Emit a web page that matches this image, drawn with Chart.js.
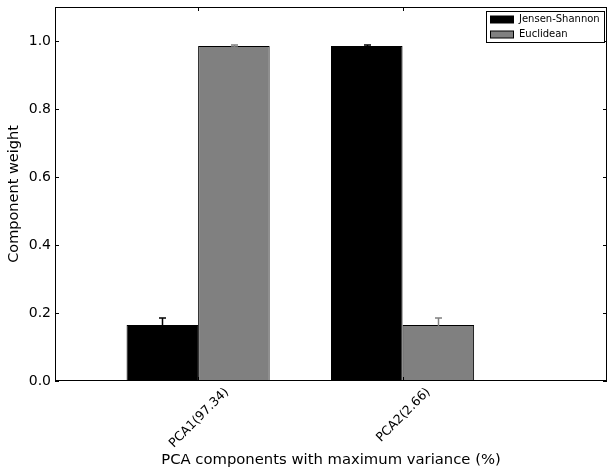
<!DOCTYPE html>
<html>
<head>
<meta charset="utf-8">
<script src="https://cdn.jsdelivr.net/npm/chart.js@4.4.0/dist/chart.umd.min.js"></script>
<style>
html,body{margin:0;padding:0;background:#fff;}
#wrap{width:608px;height:473px;}
</style>
</head>
<body>
<div id="wrap"><canvas id="c" width="608" height="473"></canvas></div>
<script>
const categories = ['PCA1(97.34)', 'PCA2(2.66)'];
const groupCenters = [0.35, 1.35];
const seriesNames = ['Jensen-Shannon', 'Euclidean'];
const jensenShannon = [0.165, 0.985];
const jensenShannonErr = [0.020, 0.003];
const euclidean = [0.985, 0.165];
const euclideanErr = [0.003, 0.020];
const yTicks = [0.0, 0.2, 0.4, 0.6, 0.8, 1.0];
const colors = ['#000000', '#808080'];

const FONT = "'DejaVu Sans', sans-serif";

function mk(vals) { return vals.map((v, i) => ({ x: groupCenters[i], y: v })); }

const errs = [jensenShannonErr, euclideanErr];

const customPlugin = {
  id: 'custom',
  afterDatasetsDraw(chart) {
    const ctx = chart.ctx;
    const ca = chart.chartArea;
    const xs = chart.scales.x, ys = chart.scales.y;
    // error bars (upper visible)
    chart.data.datasets.forEach((ds, di) => {
      const meta = chart.getDatasetMeta(di);
      meta.data.forEach((bar, i) => {
        const v = ds.data[i].y, e = errs[di][i];
        const x = Math.round(bar.x) + 0.5;
        const y1 = ys.getPixelForValue(v - e), y2 = ys.getPixelForValue(v + e);
        ctx.save();
        ctx.strokeStyle = colors[di];
        ctx.lineWidth = 1.5;
        ctx.beginPath();
        ctx.moveTo(x, y1); ctx.lineTo(x, y2);
        ctx.moveTo(x - 3.5, y2); ctx.lineTo(x + 3.5, y2);
        ctx.moveTo(x - 3.5, y1); ctx.lineTo(x + 3.5, y1);
        ctx.stroke();
        ctx.restore();
      });
    });
    // frame
    ctx.save();
    ctx.strokeStyle = '#000';
    ctx.lineWidth = 1;
    ctx.strokeRect(Math.round(ca.left) + 0.5, Math.round(ca.top) + 0.5, Math.round(ca.right - ca.left) - 1, Math.round(ca.bottom - ca.top) - 1);
    // inward ticks
    ctx.beginPath();
    yTicks.forEach(t => {
      const y = Math.round(ys.getPixelForValue(t)) + 0.5;
      ctx.moveTo(ca.left, y); ctx.lineTo(ca.left + 4, y);
      ctx.moveTo(ca.right, y); ctx.lineTo(ca.right - 4, y);
    });
    groupCenters.forEach(g => {
      const x = Math.round(xs.getPixelForValue(g)) + 0.5;
      ctx.moveTo(x, ca.bottom); ctx.lineTo(x, ca.bottom - 4);
      ctx.moveTo(x, ca.top); ctx.lineTo(x, ca.top + 4);
    });
    ctx.stroke();
    // x tick labels rotated 45, centered on tick
    ctx.fillStyle = '#000';
    ctx.font = '12.5px ' + FONT;
    ctx.textAlign = 'center';
    ctx.textBaseline = 'middle';
    categories.forEach((c, i) => {
      const x = xs.getPixelForValue(groupCenters[i]) + 1;
      const w = ctx.measureText(c).width;
      const h = 12;
      const bh = (w + h) * Math.SQRT1_2;
      const cy = ca.bottom + 5 + bh / 2;
      ctx.save();
      ctx.translate(x, cy);
      ctx.rotate(-Math.PI / 4);
      ctx.fillText(c, 0, 0);
      ctx.restore();
    });
    // legend
    const lx = 486, ly = 11, lw = 118, lh = 31;
    ctx.fillStyle = '#fff';
    ctx.fillRect(lx, ly, lw, lh);
    ctx.strokeStyle = '#000';
    ctx.lineWidth = 1;
    ctx.strokeRect(lx + 0.5, ly + 0.5, lw, lh);
    ctx.font = '10px ' + FONT;
    ctx.textAlign = 'left';
    ctx.textBaseline = 'middle';
    seriesNames.forEach((n, i) => {
      const cy = ly + 8.5 + i * 15;
      ctx.fillStyle = colors[i];
      ctx.fillRect(490, cy - 3.5, 23, 7);
      ctx.strokeStyle = '#000';
      ctx.strokeRect(490.5, cy - 3.5, 23, 7);
      ctx.fillStyle = '#000';
      ctx.fillText(n, 519, cy);
    });
    ctx.restore();
  }
};

new Chart(document.getElementById('c'), {
  type: 'bar',
  data: {
    datasets: [
      { label: seriesNames[0], data: mk(jensenShannon), backgroundColor: colors[0], borderColor: '#000', borderWidth: 1 },
      { label: seriesNames[1], data: mk(euclidean), backgroundColor: colors[1], borderColor: '#000', borderWidth: 1 }
    ]
  },
  plugins: [customPlugin],
  options: {
    responsive: false,
    animation: false,
    layout: { padding: { top: 7, right: 1, left: 0, bottom: 0 } },
    datasets: { bar: { categoryPercentage: 0.7, barPercentage: 1.0 } },
    plugins: { legend: { display: false }, tooltip: { enabled: false } },
    scales: {
      x: {
        type: 'linear',
        offset: false,
        min: -0.35,
        max: 2.35,
        afterBuildTicks: s => { s.ticks = groupCenters.map(v => ({ value: v })); },
        afterFit: s => { s.height = 92; s.paddingLeft = 0; s.paddingRight = 0; },
        grid: { display: false, drawTicks: false, offset: false },
        border: { display: false },
        ticks: { display: false },
        title: {
          display: true,
          text: 'PCA components with maximum variance (%)',
          color: '#000',
          font: { family: FONT, size: 14.8 },
          padding: { top: 0, bottom: 4 }
        }
      },
      y: {
        min: 0,
        max: 1.1,
        afterBuildTicks: s => { s.ticks = yTicks.map(v => ({ value: v })); },
        afterFit: s => { s.width = 55; s.paddingTop = 0; s.paddingBottom = 0; },
        grid: { display: false, drawTicks: false },
        border: { display: false },
        ticks: {
          color: '#000',
          font: { family: FONT, size: 14 },
          padding: 4,
          callback: v => Number(v).toFixed(1)
        },
        title: {
          display: true,
          text: 'Component weight',
          color: '#000',
          font: { family: FONT, size: 14.5 },
          padding: { top: 6, bottom: 0 }
        }
      }
    }
  }
});
</script>
</body>
</html>
